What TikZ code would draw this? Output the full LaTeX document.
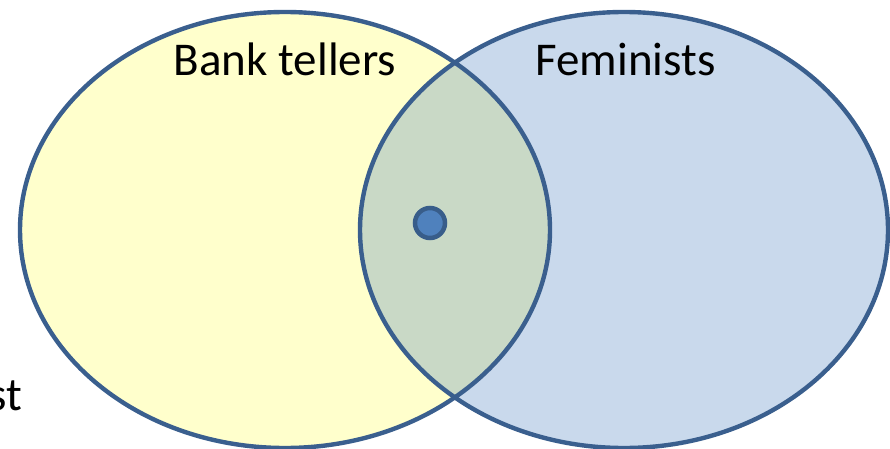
\documentclass[tikz,border=0pt]{standalone}
\usepackage{fontspec}
\setmainfont{Carlito}
\definecolor{edge}{HTML}{3A5F8E}
\definecolor{yel}{HTML}{FFFFCC}
\definecolor{blu}{HTML}{C9D9EC}
\definecolor{mix}{HTML}{C9D9C6}
\definecolor{dotfill}{HTML}{4F81BD}
\definecolor{dotedge}{HTML}{385D8A}
\tikzset{
  setline/.style={draw=edge, line width=4.4pt},
  lbl/.style={font=\fontsize{47}{56}\selectfont, inner sep=0pt, anchor=base},
}
\begin{document}
\begin{tikzpicture}[x=1pt,y=-1pt]
\useasboundingbox (0,0) rectangle (890,449);
\clip (0,0) rectangle (890,449);
\fill[yel] (285,230) ellipse [x radius=265, y radius=218];
\fill[blu] (624,230) ellipse [x radius=264, y radius=218];
\begin{scope}
  \clip (285,230) ellipse [x radius=265, y radius=218];
  \fill[mix] (624,230) ellipse [x radius=264, y radius=218];
\end{scope}
\draw[setline] (285,230) ellipse [x radius=265, y radius=218];
\draw[setline] (624,230) ellipse [x radius=264, y radius=218];
\node[circle, fill=dotfill, draw=dotedge, line width=4.5pt, minimum size=30pt, inner sep=0pt] (dot) at (430,223) {};
\node[lbl] (bank) at (285,76) {Bank tellers};
\node[lbl] (fem) at (625.5,76) {Feminists};
\node[lbl, anchor=base east] (st) at (22,410) {st};
\end{tikzpicture}
\end{document}
